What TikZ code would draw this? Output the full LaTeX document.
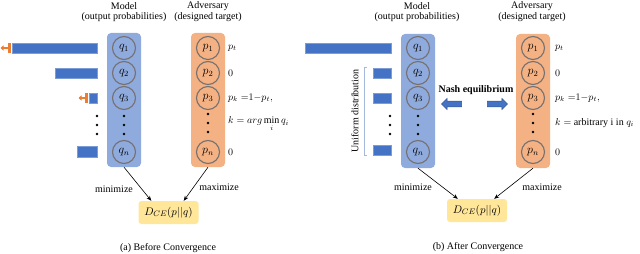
\documentclass[tikz,border=0pt]{standalone}
\definecolor{barblue}{RGB}{68, 114, 196}
\definecolor{colblue}{RGB}{143, 170, 220}
\definecolor{colorange}{RGB}{244, 177, 131}
\definecolor{shiftorange}{RGB}{237, 125, 49}
\definecolor{boxyellow}{RGB}{255, 230, 153}
\definecolor{ringgray}{RGB}{118, 113, 113}
\definecolor{bracketblue}{RGB}{165, 185, 220}
\usepackage{amsmath}
\usepackage{fontspec}
\setmainfont{Liberation Serif}
\usepackage{tikz}
\usetikzlibrary{arrows.meta, positioning, calc, shapes.arrows}

\tikzset{
  txt/.style={font=\fontsize{10}{11}\selectfont, inner sep=1pt},
  column/.style={rounded corners=4pt, minimum width=34pt, minimum height=134pt, inner sep=0pt},
  ring/.style={circle, draw=ringgray, line width=1.1pt, minimum size=23pt, inner sep=0pt, font=\fontsize{11.5}{12}\selectfont},
  bar/.style={fill=barblue, draw=barblue!70!white, line width=0.4pt, minimum height=10pt, inner sep=0pt, anchor=east},
  shiftbox/.style={fill=shiftorange, minimum width=3.3pt, minimum height=10pt, inner sep=0pt, anchor=east},
  shiftarrow/.style={shiftorange, line width=1.3pt, -{Triangle[length=3pt, width=5pt]}},
  dot/.style={circle, fill=black, inner sep=0pt, minimum size=2.6pt},
  flow/.style={-{Stealth[length=5pt, width=4pt]}, line width=0.6pt},
  lossbox/.style={fill=boxyellow, rounded corners=3pt, minimum width=60pt, minimum height=23pt, inner sep=0pt, font=\fontsize{11}{12}\selectfont},
  nasharrow/.style={single arrow, fill=barblue, draw=barblue!75!black, line width=0.5pt, minimum height=20pt, inner xsep=0pt, inner ysep=2.6pt, single arrow head extend=2.6pt, single arrow tip angle=90},
}

\begin{document}
\begin{tikzpicture}[x=1pt, y=-1pt, every node/.style={font=\fontsize{10}{11}\selectfont}]
  \useasboundingbox (0,0) rectangle (640,254);

  %% (a) BEFORE CONVERGENCE
  \node[txt] (amodelt) at (124,6) {Model};
  \node[txt] (amodels) at (124,17) {(output probabilities)};
  \node[txt] (aadvt) at (208,6) {Adversary};
  \node[txt] (aadvs) at (208,17) {(designed target)};

  \node[column, fill=colblue] (amodel) at (124,100) {};
  \node[column, fill=colorange] (aadv) at (208,100) {};

  \foreach \i/\y in {1/48, 2/73, 3/98} {
    \node[ring] (aq\i) at (124,\y) {$q_\i$};
    \node[ring] (ap\i) at (208,\y) {$p_\i$};
  }
  \node[ring] (aqn) at (124,152) {$q_n$};
  \node[ring] (apn) at (208,152) {$p_n$};
  \foreach \y in {116, 125, 134} {
    \node[dot] at (124,\y) {};
    \node[dot] at (97,\y) {};
  }
  \foreach \y in {114, 123, 132}
    \node[dot] at (208,\y) {};

  % bars of the model output
  \node[bar, minimum width=85pt] (aq1bar) at (97,48) {};
  \node[bar, minimum width=42pt] (aq2bar) at (97,73) {};
  \node[bar, minimum width=8pt] (aq3bar) at (97,98) {};
  \node[bar, minimum width=20pt, minimum height=11pt] (aqnbar) at (97,152) {};
  \node[shiftbox] (aq1shift) at (aq1bar.west) {};
  \node[shiftbox] (aq3shift) at (aq3bar.west) {};
  \coordinate (aq1tip) at (0.5,48);
  \coordinate (aq3tip) at (78.5,98);
  \draw[shiftarrow] (aq1shift.west) -- (aq1tip);
  \draw[shiftarrow] (aq3shift.west) -- (aq3tip);

  % designed target
  \node[txt, anchor=west] (apt) at (227,48) {$p_t$};
  \node[txt, anchor=west] (ap2v) at (227,73) {$0$};
  \node[txt, anchor=west] (apk) at (227,98) {$p_k\;{=}1{-}p_t,$};
  \node[txt, anchor=west] (ak) at (227,124) {$k = arg\min\limits_{i} q_i$};
  \node[txt, anchor=west] (apnv) at (227,152) {$0$};

  \node[lossbox] (adce) at (168.5,212.5) {$D_{CE}(p||q)$};
  \draw[flow] (amodel.south) -- ($(adce.north west)+(13,0)$);
  \draw[flow] (aadv.south) -- ($(adce.north east)+(-15,0)$);
  \node[txt] (amin) at (114,189) {minimize};
  \node[txt] (amax) at (219,187) {maximize};

  \node[txt] (acap) at (168,248) {(a) Before Convergence};

  %% (b) AFTER CONVERGENCE
  \node[txt] (bmodelt) at (417,6) {Model};
  \node[txt] (bmodels) at (417,17) {(output probabilities)};
  \node[txt] (badvt) at (532,6) {Adversary};
  \node[txt] (badvs) at (532,17) {(designed target)};

  \node[column, fill=colblue] (bmodel) at (418,101) {};
  \node[column, fill=colorange] (badv) at (533,101) {};

  \foreach \i/\y in {1/48, 2/73, 3/98} {
    \node[ring] (bq\i) at (418,\y) {$q_\i$};
    \node[ring] (bp\i) at (533,\y) {$p_\i$};
  }
  \node[ring] (bqn) at (418,152) {$q_n$};
  \node[ring] (bpn) at (533,152) {$p_n$};
  \foreach \y in {116, 125, 134} {
    \node[dot] at (418,\y) {};
    \node[dot] at (390,\y) {};
  }
  \foreach \y in {114, 123, 132}
    \node[dot] at (533,\y) {};

  % bars, uniform apart from the target
  \node[bar, minimum width=86pt] (bq1bar) at (391,48) {};
  \node[bar, minimum width=18pt] (bq2bar) at (391,73) {};
  \node[bar, minimum width=18pt] (bq3bar) at (391,98) {};
  \node[bar, minimum width=18pt] (bqnbar) at (391,150) {};
  \draw[bracketblue, line width=0.6pt] (367,67) -- (364,67) -- (364,155) -- (367,155);
  \node[txt, rotate=90] (buni) at (355,111) {Uniform distribution};

  % equilibrium
  \node[font=\fontsize{10}{11}\selectfont\bfseries] (bnash) at (476,90) {Nash equilibrium};
  \node[nasharrow, shape border rotate=180] (bnashl) at (453,104) {};
  \node[nasharrow] (bnashr) at (496,104) {};

  % designed target
  \node[txt, anchor=west] (bpt) at (554,48) {$p_t$};
  \node[txt, anchor=west] (bp2v) at (554,73) {$0$};
  \node[txt, anchor=west] (bpk) at (554,98) {$p_k\;{=}1{-}p_t,$};
  \node[txt, anchor=west] (bk) at (554,123) {$k =$ arbitrary i in $q_i$};
  \node[txt, anchor=west] (bpnv) at (554,152) {$0$};

  \node[lossbox] (bdce) at (477,210.5) {$D_{CE}(p||q)$};
  \draw[flow] (bmodel.south) -- ($(bdce.north west)+(11,0)$);
  \draw[flow] (badv.south) -- ($(bdce.north east)+(-13,0)$);
  \node[txt] (bmin) at (413,187) {minimize};
  \node[txt] (bmax) at (542,187) {maximize};

  \node[txt] (bcap) at (478,247) {(b) After Convergence};
\end{tikzpicture}
\end{document}
